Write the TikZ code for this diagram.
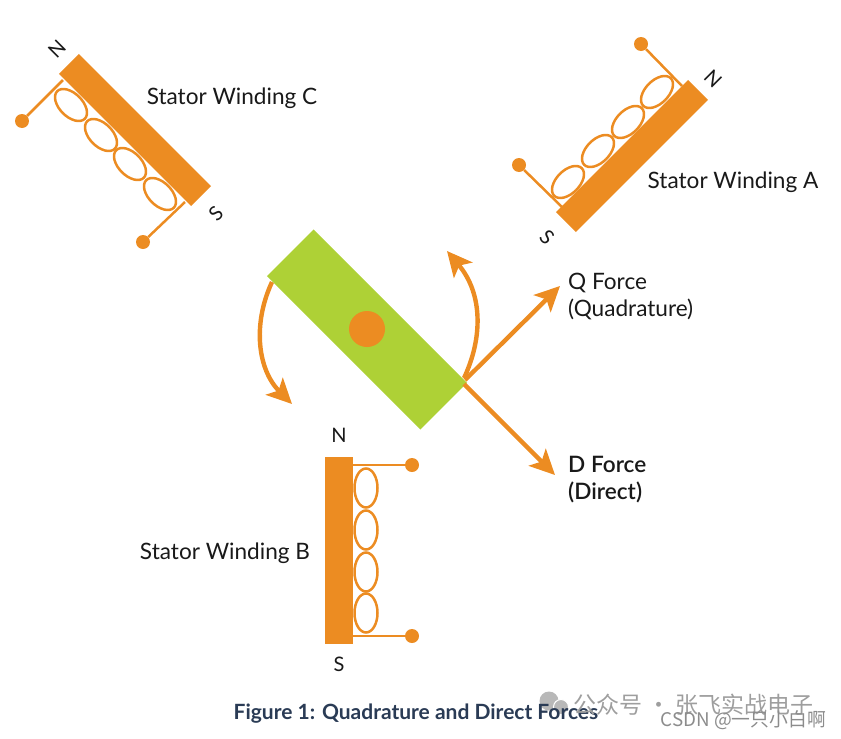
\documentclass[tikz,border=0pt]{standalone}
\usepackage{fontspec}
\setmainfont{Lato}
\newfontfamily\cjkfont{Noto Sans CJK SC}
\newfontfamily\mediumfont{Lato Semibold}
\usetikzlibrary{arrows.meta,shapes.geometric}
\definecolor{windorange}{HTML}{EC8C22}
\definecolor{rotorgreen}{HTML}{AED136}
\definecolor{captionblue}{HTML}{2A3B55}
\begin{document}
\begin{tikzpicture}[
    x=1pt, y=-1pt,
    bar/.style={rectangle, fill=windorange, inner sep=0pt, minimum width=187pt, minimum height=28pt},
    coil/.style={ellipse, draw=windorange, line width=2.5pt, inner sep=0pt, minimum width=39pt, minimum height=23pt},
    dot/.style={circle, fill=windorange, inner sep=0pt, minimum size=14pt},
    lead/.style={draw=windorange, line width=2.5pt},
    force/.style={draw=windorange, line width=4.4pt, -{Stealth[length=25pt, width=24pt, inset=6pt]}},
    namelabel/.style={font=\fontsize{22.6}{27}\selectfont, text=black!90, inner sep=0pt},
    pole/.style={font=\fontsize{20}{23}\selectfont, text=black!90, inner sep=0pt},
    watermark/.style={font=\cjkfont\fontsize{23}{26}\selectfont, text=black!38, inner sep=0pt}
]
    \useasboundingbox (0,0) rectangle (841,739);

    % Stator Winding C
    \coordinate (leadC1) at (63,80);
    \coordinate (leadC2) at (185,202);
    \node[dot] (dotC1) at (22,121) {};
    \node[dot] (dotC2) at (143,242) {};
    \draw[lead] (dotC1) -- (leadC1);
    \draw[lead] (dotC2) -- (leadC2);
    \node[bar, rotate=-45] (barC) at (135,130) {};
    \node[coil, rotate=-45] (coilC1) at (71,105) {};
    \node[coil, rotate=-45] (coilC2) at (101,135) {};
    \node[coil, rotate=-45] (coilC3) at (130,164) {};
    \node[coil, rotate=-45] (coilC4) at (160,194) {};
    \node[pole, rotate=45] (northC) at (57,49) {N};
    \node[pole, rotate=45] (southC) at (216,214) {S};
    \node[namelabel] (nameC) at (232,98) {Stator Winding C};

    % Stator Winding A
    \coordinate (leadA1) at (682,86);
    \coordinate (leadA2) at (562,207);
    \node[dot] (dotA1) at (641,44) {};
    \node[dot] (dotA2) at (519,165) {};
    \draw[lead] (dotA1) -- (leadA1);
    \draw[lead] (dotA2) -- (leadA2);
    \node[bar, rotate=45] (barA) at (632,156) {};
    \node[coil, rotate=45] (coilA1) at (657,92) {};
    \node[coil, rotate=45] (coilA2) at (628,122) {};
    \node[coil, rotate=45] (coilA3) at (598,151) {};
    \node[coil, rotate=45] (coilA4) at (568,182) {};
    \node[pole, rotate=-45] (northA) at (713,79) {N};
    \node[pole, rotate=-45] (southA) at (547,237) {S};
    \node[namelabel] (nameA) at (733,182) {Stator Winding A};

    % Stator Winding B
    \coordinate (leadB1) at (353,465);
    \coordinate (leadB2) at (353,636);
    \node[dot] (dotB1) at (412,465) {};
    \node[dot] (dotB2) at (412,636) {};
    \draw[lead] (dotB1) -- (leadB1);
    \draw[lead] (dotB2) -- (leadB2);
    \node[bar, rotate=90] (barB) at (339,550) {};
    \node[coil, rotate=90] (coilB1) at (366,488) {};
    \node[coil, rotate=90] (coilB2) at (366,530) {};
    \node[coil, rotate=90] (coilB3) at (366,572) {};
    \node[coil, rotate=90] (coilB4) at (366,613) {};
    \node[pole] (northB) at (339,435) {N};
    \node[pole] (southB) at (339,664) {S};
    \node[namelabel] (nameB) at (225,553) {Stator Winding B};

    % Rotor
    \coordinate (tipQ) at (560,286);
    \coordinate (tipD) at (555,475);
    \coordinate (rotorQ) at (465,380);
    \coordinate (rotorD) at (464,384);
    \coordinate (armR) at (464,378);
    \coordinate (tipR) at (447,251);
    \coordinate (armL) at (272,282);
    \coordinate (tipL) at (292,404);
    \draw[force] (armR) .. controls (482,340) and (484,295) .. (tipR);
    \draw[force] (armL) .. controls (252,325) and (258,370) .. (tipL);
    \node[rectangle, fill=rotorgreen, inner sep=0pt, minimum width=217pt, minimum height=66pt, rotate=-45] (rotor) at (367,329.5) {};
    \node[circle, fill=windorange, inner sep=0pt, minimum size=36pt] (hub) at (367,329) {};
    \draw[force] (rotorQ) -- (tipQ);
    \draw[force] (rotorD) -- (tipD);

    % Force labels
    \node[namelabel, anchor=west, align=left] (nameQ) at (568,296) {Q Force\\(Quadrature)};
    \node[namelabel, anchor=west, align=left, font=\mediumfont\fontsize{22.6}{27}\selectfont] (nameD) at (568,480) {D Force\\(Direct)};

    % Caption and watermarks
    \node[circle, fill=black!28, inner sep=0pt, minimum size=19pt] (iconA) at (549,701) {};
    \node[circle, fill=black!28, draw=white, line width=1pt, inner sep=0pt, minimum size=15pt] (iconB) at (561,707) {};
    \node[font=\fontsize{21}{25}\selectfont\bfseries, text=captionblue, inner sep=0pt] (caption) at (416,714) {Figure 1: Quadrature and Direct Forces};
    \node[watermark, anchor=west] (markA) at (573,705) {公众号 · 张飞实战电子};
    \node[watermark, anchor=east, font=\cjkfont\fontsize{18.8}{22}\selectfont, text=black!45] (markB) at (826,720) {CSDN @一只小白啊};
\end{tikzpicture}
\end{document}
